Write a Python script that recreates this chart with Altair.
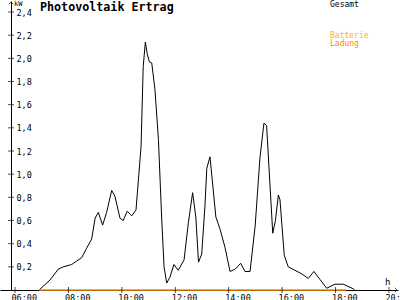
import altair as alt
import pandas as pd

# Gesamt (total) PV output, hour of day -> kW
hours = [6.90, 7.31, 7.62, 7.81, 8.12, 8.31, 8.50, 8.68, 8.87, 9.00, 9.12, 9.28, 9.43,
         9.62, 9.74, 9.93, 10.05, 10.20, 10.37, 10.53, 10.62, 10.72, 10.80, 10.88,
         10.95, 11.03, 11.12, 11.24, 11.37, 11.49, 11.58, 11.68, 11.80, 11.95, 12.11,
         12.33, 12.49, 12.65, 12.77, 12.87, 12.99, 13.11, 13.18, 13.30, 13.52, 13.67,
         13.86, 14.05, 14.24, 14.45, 14.61, 14.80, 14.99, 15.17, 15.32, 15.42, 15.55,
         15.65, 15.75, 15.86, 15.92, 16.08, 16.23, 16.48, 16.73, 16.98, 17.19, 17.42,
         17.67, 17.98, 18.29, 18.67, 18.72]
gesamt = [0.00, 0.086, 0.18, 0.20, 0.22, 0.25, 0.28, 0.36, 0.44, 0.62, 0.67, 0.56, 0.67,
          0.86, 0.81, 0.62, 0.60, 0.68, 0.64, 0.69, 0.95, 1.24, 1.93, 2.14,
          2.04, 1.97, 1.96, 1.73, 1.30, 0.63, 0.20, 0.06, 0.11, 0.22, 0.17,
          0.26, 0.58, 0.84, 0.63, 0.24, 0.31, 0.72, 1.05, 1.15, 0.63, 0.53,
          0.37, 0.16, 0.18, 0.23, 0.16, 0.16, 0.55, 1.14, 1.44, 1.42, 0.89,
          0.49, 0.60, 0.82, 0.78, 0.30, 0.20, 0.17, 0.14, 0.10, 0.16, 0.09,
          0.015, 0.05, 0.05, 0.01, 0.00]

# Batterie Ladung (battery charge) series
lad_hours = [6.90, 18.40]
ladung = [0.0, 0.0]

x_ticks = [6, 8, 10, 12, 14, 16, 18, 20]
y_ticks = [0.2, 0.4, 0.6, 0.8, 1.0, 1.2, 1.4, 1.6, 1.8, 2.0, 2.2, 2.4]

legend_labels = ["Gesamt", "Batterie", "Ladung"]
legend_colors = ["#000000", "#FFB400", "#FF8C00"]

FONT = "DejaVu Sans Mono"
X_DOMAIN = [5.4384, 20.339]
Y_DOMAIN = [0, 2.495]

xs = alt.Scale(domain=X_DOMAIN, nice=False, zero=False)
ys = alt.Scale(domain=Y_DOMAIN, nice=False, zero=False)

df = pd.DataFrame({"h": hours, "kw": gesamt})
df_lad = pd.DataFrame({"h": lad_hours, "kw": ladung})
df_xt = pd.DataFrame({"h": x_ticks})
df_yt = pd.DataFrame({"kw": y_ticks})

x_axis = alt.Axis(values=x_ticks, title=None, grid=False, ticks=False, tickSize=0,
                  domainColor="black", domainWidth=1,
                  labelExpr="(datum.value < 10 ? '0' : '') + datum.value + ':00'",
                  labelFont=FONT, labelFontSize=8.5, labelColor="black",
                  labelAlign="left", labelOffset=-4, labelBaseline="top", labelPadding=3,
                  labelOverlap=False, labelFlush=False, labelBound=False)
y_axis = alt.Axis(values=y_ticks, title=None, grid=False, ticks=False, tickSize=0,
                  domainColor="black", domainWidth=1, offset=-11,
                  labelExpr="replace(format(datum.value, '.1f'), '.', ',')",
                  labelFont=FONT, labelFontSize=8.5, labelColor="black",
                  labelAlign="left", labelBaseline="middle", labelPadding=-5,
                  labelOverlap=False, labelFlush=False, labelBound=False)

X = alt.X("h:Q", scale=xs, axis=x_axis)
Y = alt.Y("kw:Q", scale=ys, axis=y_axis)

line = alt.Chart(df).mark_line(color="black", strokeWidth=1).encode(x=X, y=Y)

lad = alt.Chart(df_lad).mark_line(color="#FF8C00", strokeWidth=1.5).encode(x=X, y=Y)

xt = alt.Chart(df_xt).mark_tick(color="black", thickness=1, size=6, orient="vertical").encode(
    x=X, y=alt.value(289),
)
yt = alt.Chart(df_yt).mark_tick(color="black", thickness=1, size=6, orient="horizontal").encode(
    y=Y, x=alt.value(11),
)

up_arrow = alt.Chart(pd.DataFrame({"a": [0]})).mark_point(
    shape="M -1 1 L 0 0 L 1 1", filled=False, color="black", strokeWidth=1, size=20
).encode(x=alt.value(11), y=alt.value(1))
right_arrow = alt.Chart(pd.DataFrame({"a": [0]})).mark_point(
    shape="M -1 -1 L 0 0 L -1 1", filled=False, color="black", strokeWidth=1, size=20
).encode(x=alt.value(397), y=alt.value(289))

def txt(text, x, y, size=8, color="black", bold=False, align="left"):
    return alt.Chart(pd.DataFrame({"t": [text]})).mark_text(
        font=FONT, fontSize=size, color=color, fontWeight="bold" if bold else "normal",
        align=align, baseline="middle"
    ).encode(text="t:N", x=alt.value(x), y=alt.value(y))

title = txt("Photovoltaik Ertrag", 40, 6, size=11.7, bold=True)
kw = txt("kW", 14, 3, size=7)
hlab = txt("h", 385, 281, size=9)
leg = [txt(legend_labels[0], 330, 4, color=legend_colors[0]),
       txt(legend_labels[1], 330, 35, color=legend_colors[1]),
       txt(legend_labels[2], 330, 43, color=legend_colors[2])]

chart = alt.layer(line, lad, xt, yt, up_arrow, right_arrow, title, kw, hlab, *leg).properties(
    width=398, height=289,
    autosize=alt.AutoSizeParams(type="none"),
    padding={"left": 0, "top": 1, "right": 2, "bottom": 10},
    background="white",
).configure_view(strokeWidth=0)

chart.save("out.html", embed_options={"renderer": "svg", "actions": False})
